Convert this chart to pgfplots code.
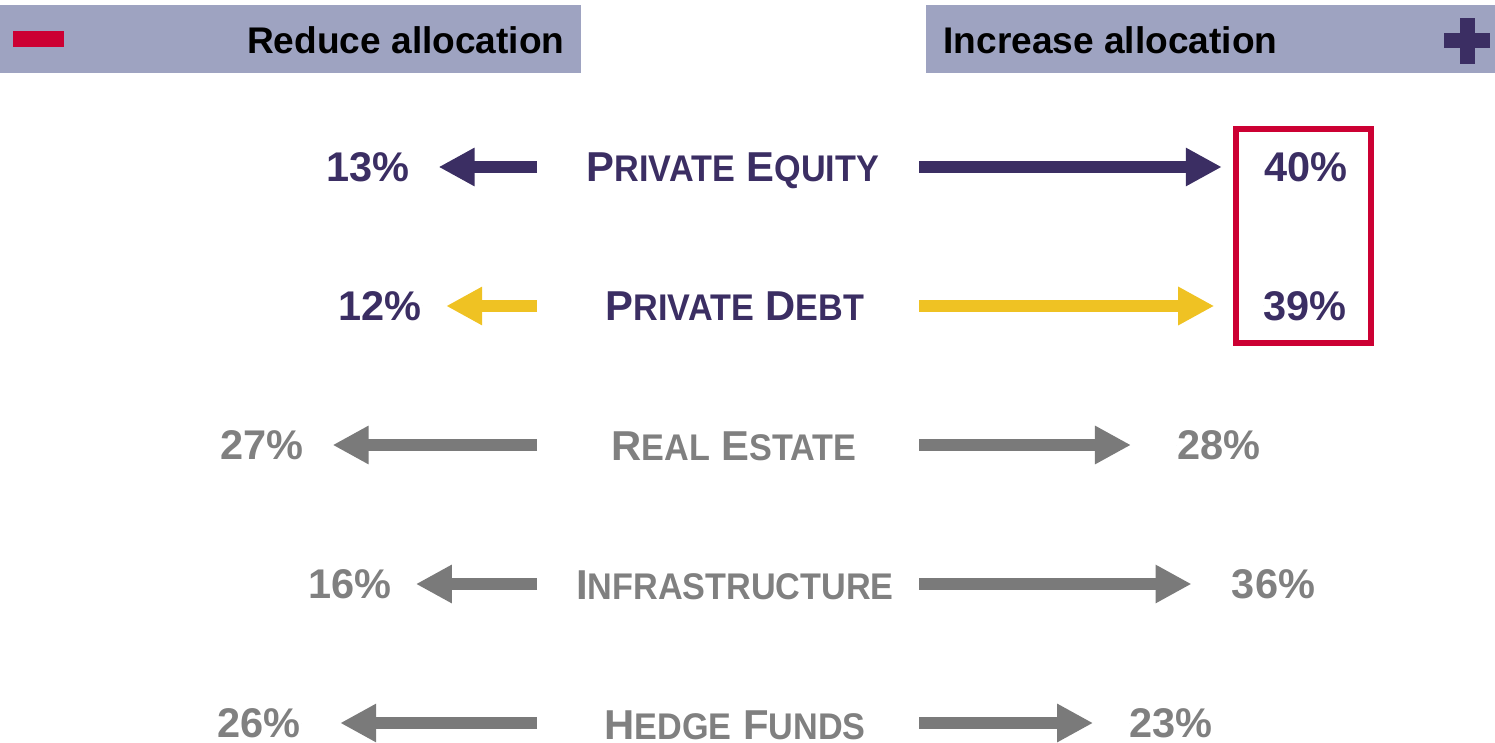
\documentclass[border=0pt]{standalone}
\usepackage{pgfplots}
\pgfplotsset{compat=1.18}
\usepackage{pgfplotstable}
\usetikzlibrary{arrows.meta}
\usepackage{fontspec}
\setmainfont{Liberation Sans}
\definecolor{dpurple}{HTML}{3B2E63}
\definecolor{myyellow}{HTML}{EFC223}
\definecolor{mygray}{HTML}{7A7A7A}
\definecolor{txtgray}{HTML}{808080}
\definecolor{hdr}{HTML}{9EA3C1}
\definecolor{myred}{HTML}{CC0033}
\newcommand{\pctfont}{\bfseries\fontsize{20.75pt}{24pt}\selectfont}
\newcommand{\hdrfont}{\bfseries\fontsize{18.55pt}{22pt}\selectfont}
\newcommand{\bigc}[1]{{\bfseries\fontsize{20.9pt}{24pt}\selectfont #1}}
\newcommand{\smc}[1]{\scalebox{1}[1.085]{\bfseries\fontsize{17.1pt}{20pt}\selectfont #1}}

% values in percent; y = row position (px from top); g = gap between arrow tip and label (px)
\pgfplotstableread{
y v g
167 13 29
}\PEleft
\pgfplotstableread{
y v g
167 40 42
}\PEright
\pgfplotstableread{
y v g
306 12 24
}\PDleft
\pgfplotstableread{
y v g
306 39 49
}\PDright
\pgfplotstableread{
y v g
445 27 29
584 16 24
723 26 39
}\GRleft
\pgfplotstableread{
y v g
445 28 46
584 36 40
723 23 36
}\GRright

\begin{document}
\begin{tikzpicture}
\begin{axis}[
  at={(0,0)}, anchor=south west,
  width=747.5pt, height=371.5pt, scale only axis,
  xmin=0, xmax=1495, ymin=0, ymax=743, y dir=reverse,
  hide axis, clip=false,
  arr/.style={line width=6pt, -{Triangle[length=18pt,width=18pt]}},
  lab/.style={only marks, mark=*, mark size=0pt, mark options={draw=none,fill=none},
    point meta=explicit symbolic, nodes near coords={\pgfplotspointmeta\%}},
  labL/.style={lab, nodes near coords style={anchor=base east, yshift=-7.4pt, inner sep=0pt, font=\pctfont, text=#1}},
  labR/.style={lab, nodes near coords style={anchor=base west, yshift=-7.4pt, inner sep=0pt, font=\pctfont, text=#1}},
]
% header boxes
\fill[hdr] (axis cs:0,5) rectangle (axis cs:581,73);
\fill[hdr] (axis cs:926,5) rectangle (axis cs:1495,73);
\fill[myred] (axis cs:13,31) rectangle (axis cs:64,47);
\fill[dpurple] (axis cs:1444,33.5) rectangle (axis cs:1490,48.5);
\fill[dpurple] (axis cs:1459.5,18) rectangle (axis cs:1474.5,64);
\node[anchor=base east, inner sep=0pt, font=\hdrfont] at (axis cs:565,53.3) {Reduce allocation};
\node[anchor=base west, inner sep=0pt, font=\hdrfont] at (axis cs:943,53.3) {Increase allocation};
% red highlight box
\draw[myred, line width=2.75pt] (axis cs:1236,129) rectangle (axis cs:1371,343);

% arrows
\addplot[dpurple, arr, quiver={u=-7.57*\thisrow{v}, v=0}] table[x expr=537, y=y] {\PEleft};
\addplot[dpurple, arr, quiver={u=7.57*\thisrow{v}, v=0}] table[x expr=919, y=y] {\PEright};
\addplot[myyellow, arr, quiver={u=-7.57*\thisrow{v}, v=0}] table[x expr=537, y=y] {\PDleft};
\addplot[myyellow, arr, quiver={u=7.57*\thisrow{v}, v=0}] table[x expr=919, y=y] {\PDright};
\addplot[mygray, arr, quiver={u=-7.57*\thisrow{v}, v=0}] table[x expr=537, y=y] {\GRleft};
\addplot[mygray, arr, quiver={u=7.57*\thisrow{v}, v=0}] table[x expr=919, y=y] {\GRright};

% value labels
\addplot[labL=dpurple] table[x expr=537-7.57*\thisrow{v}-\thisrow{g}, y=y, meta=v] {\PEleft};
\addplot[labR=dpurple] table[x expr=919+7.57*\thisrow{v}+\thisrow{g}, y=y, meta=v] {\PEright};
\addplot[labL=dpurple] table[x expr=537-7.57*\thisrow{v}-\thisrow{g}, y=y, meta=v] {\PDleft};
\addplot[labR=dpurple] table[x expr=919+7.57*\thisrow{v}+\thisrow{g}, y=y, meta=v] {\PDright};
\addplot[labL=txtgray] table[x expr=537-7.57*\thisrow{v}-\thisrow{g}, y=y, meta=v] {\GRleft};
\addplot[labR=txtgray] table[x expr=919+7.57*\thisrow{v}+\thisrow{g}, y=y, meta=v] {\GRright};

% category labels
\node[anchor=base, inner sep=0pt, text=dpurple] at (axis cs:733,182) {\bigc{P}\smc{RIVATE}\bigc{\ E}\smc{QUITY}};
\node[anchor=base, inner sep=0pt, text=dpurple] at (axis cs:735,321) {\bigc{P}\smc{RIVATE}\bigc{\ D}\smc{EBT}};
\node[anchor=base, inner sep=0pt, text=txtgray] at (axis cs:734,460) {\bigc{R}\smc{EAL}\bigc{\ E}\smc{STATE}};
\node[anchor=base, inner sep=0pt, text=txtgray] at (axis cs:735,599) {\bigc{I}\smc{NFRASTRUCTURE}};
\node[anchor=base, inner sep=0pt, text=txtgray] at (axis cs:735,739) {\bigc{H}\smc{EDGE}\bigc{\ F}\smc{UNDS}};
\end{axis}
\pgfresetboundingbox
\path (0,0) rectangle (747.5pt,371.5pt);
\end{tikzpicture}
\end{document}
